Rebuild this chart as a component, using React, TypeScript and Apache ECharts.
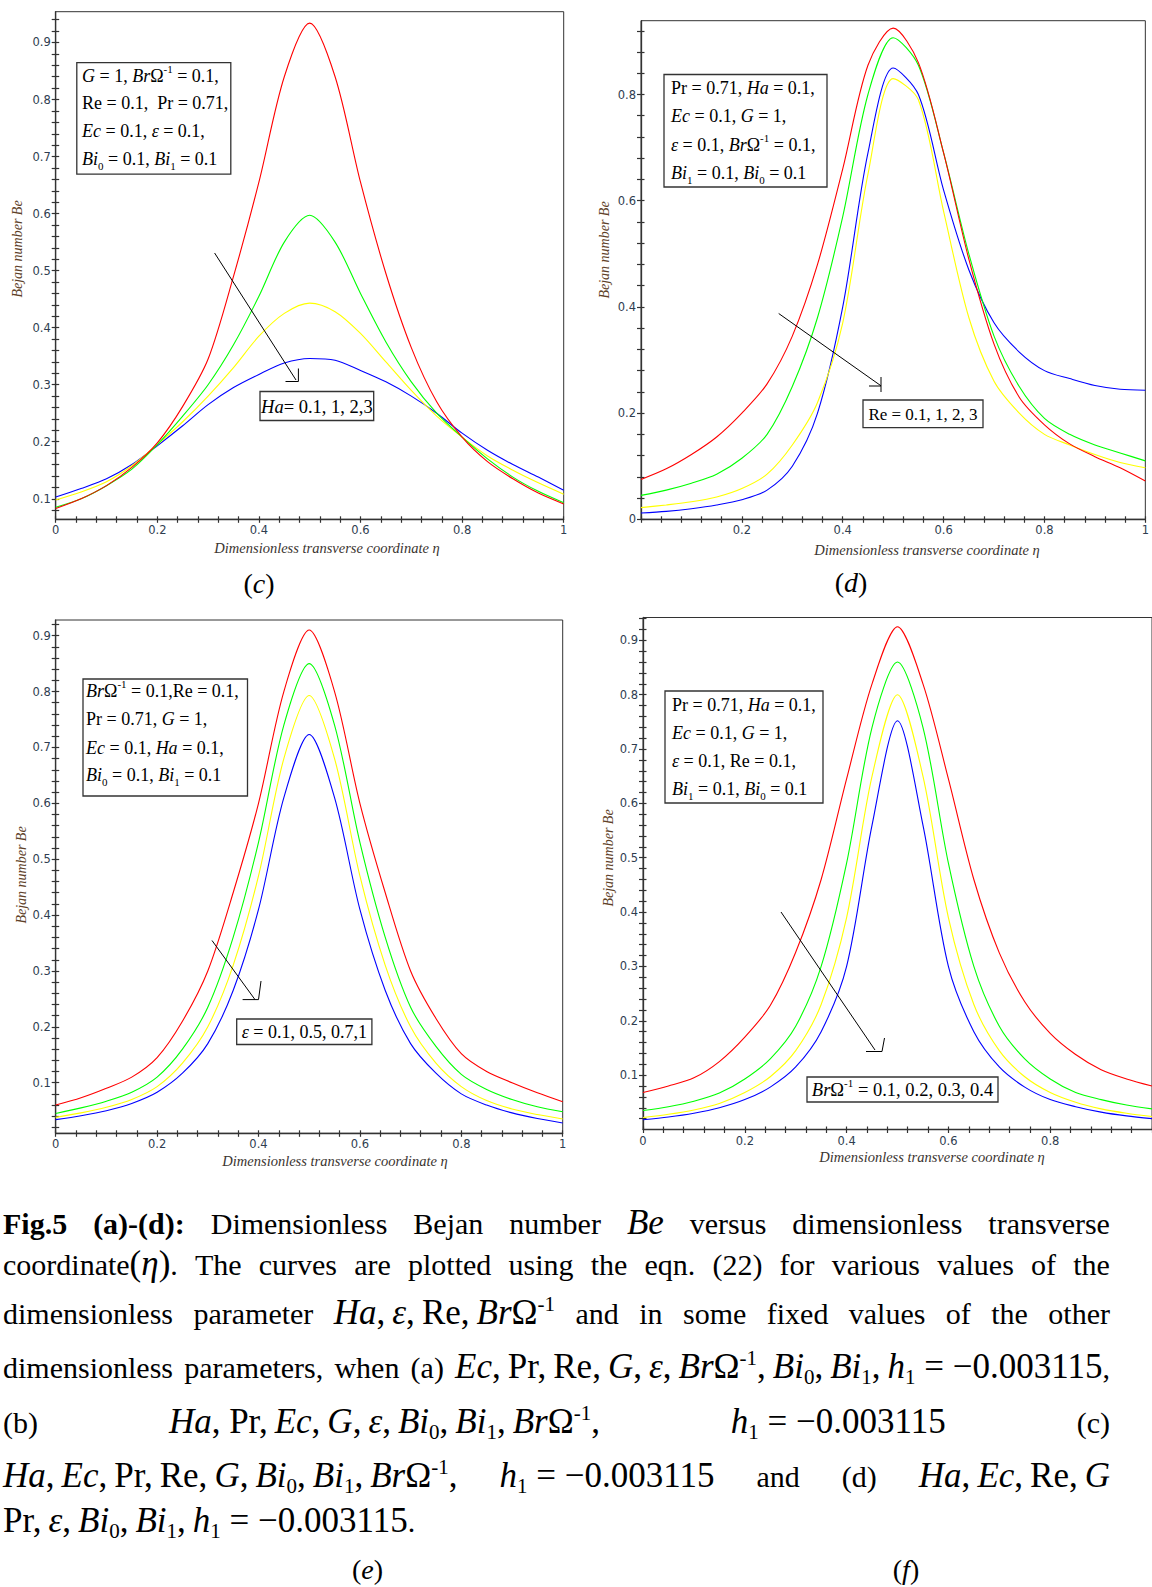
import React, { useEffect, useRef } from "react";
import * as echarts from "echarts";

// ---------------- DATA ----------------
const ETA = [0, 0.05, 0.1, 0.15, 0.2, 0.25, 0.3, 0.35, 0.4, 0.45, 0.5, 0.55, 0.6, 0.65, 0.7, 0.75, 0.8, 0.85, 0.9, 0.95, 1];

// (c) Ha = 0.1, 1, 2, 3
const C_HA_01 = [0.083, 0.1, 0.123, 0.155, 0.198, 0.262, 0.345, 0.49, 0.655, 0.84, 0.934, 0.84, 0.655, 0.495, 0.365, 0.27, 0.208, 0.165, 0.135, 0.11, 0.091];
const C_HA_1 = [0.085, 0.1, 0.123, 0.152, 0.195, 0.245, 0.3, 0.37, 0.455, 0.55, 0.597, 0.55, 0.46, 0.375, 0.305, 0.25, 0.208, 0.17, 0.138, 0.113, 0.093];
const C_HA_2 = [0.098, 0.112, 0.13, 0.158, 0.195, 0.235, 0.28, 0.33, 0.385, 0.425, 0.443, 0.428, 0.39, 0.34, 0.29, 0.245, 0.208, 0.175, 0.15, 0.128, 0.108];
const C_HA_3 = [0.103, 0.118, 0.135, 0.16, 0.193, 0.228, 0.265, 0.295, 0.318, 0.338, 0.346, 0.343, 0.325, 0.305, 0.28, 0.25, 0.215, 0.185, 0.16, 0.138, 0.115];

// (d) Re = 0.1, 1, 2, 3
const D_RE_01 = [0.075, 0.095, 0.122, 0.155, 0.2, 0.255, 0.345, 0.48, 0.66, 0.855, 0.925, 0.86, 0.69, 0.49, 0.33, 0.23, 0.178, 0.142, 0.118, 0.097, 0.072];
const D_RE_1 = [0.045, 0.055, 0.068, 0.085, 0.115, 0.16, 0.25, 0.38, 0.57, 0.8, 0.907, 0.855, 0.69, 0.5, 0.345, 0.25, 0.19, 0.16, 0.14, 0.125, 0.11];
const D_RE_2 = [0.022, 0.027, 0.033, 0.042, 0.058, 0.085, 0.14, 0.22, 0.37, 0.65, 0.83, 0.79, 0.58, 0.38, 0.26, 0.2, 0.16, 0.14, 0.122, 0.107, 0.097];
const D_RE_3 = [0.012, 0.015, 0.02, 0.027, 0.037, 0.055, 0.1, 0.2, 0.4, 0.69, 0.85, 0.8, 0.62, 0.47, 0.37, 0.315, 0.28, 0.265, 0.252, 0.245, 0.243];

// (e) epsilon = 0.1, 0.5, 0.7, 1
const E_EPS_01 = [0.06, 0.073, 0.09, 0.11, 0.145, 0.21, 0.3, 0.44, 0.6, 0.8, 0.91, 0.8, 0.6, 0.44, 0.3, 0.215, 0.152, 0.12, 0.1, 0.082, 0.066];
const E_EPS_05 = [0.045, 0.055, 0.067, 0.083, 0.11, 0.16, 0.235, 0.36, 0.53, 0.74, 0.85, 0.74, 0.53, 0.36, 0.235, 0.165, 0.115, 0.088, 0.07, 0.057, 0.048];
const E_EPS_07 = [0.038, 0.046, 0.056, 0.07, 0.093, 0.135, 0.2, 0.31, 0.47, 0.68, 0.793, 0.68, 0.47, 0.31, 0.2, 0.135, 0.093, 0.068, 0.053, 0.043, 0.035];
const E_EPS_1 = [0.034, 0.041, 0.05, 0.063, 0.083, 0.117, 0.17, 0.265, 0.41, 0.61, 0.723, 0.61, 0.41, 0.265, 0.17, 0.117, 0.08, 0.06, 0.046, 0.036, 0.028];

// (f) Br Omega^-1 = 0.1, 0.2, 0.3, 0.4
const F_BR_01 = [0.068, 0.08, 0.095, 0.125, 0.17, 0.228, 0.326, 0.46, 0.645, 0.82, 0.925, 0.82, 0.645, 0.46, 0.325, 0.235, 0.177, 0.138, 0.11, 0.093, 0.08];
const F_BR_02 = [0.035, 0.042, 0.052, 0.067, 0.093, 0.13, 0.19, 0.3, 0.49, 0.74, 0.86, 0.74, 0.49, 0.3, 0.19, 0.13, 0.093, 0.068, 0.055, 0.045, 0.038];
const F_BR_03 = [0.022, 0.028, 0.036, 0.048, 0.068, 0.097, 0.145, 0.23, 0.39, 0.65, 0.8, 0.65, 0.39, 0.23, 0.145, 0.097, 0.068, 0.05, 0.038, 0.03, 0.024];
const F_BR_04 = [0.018, 0.023, 0.03, 0.04, 0.055, 0.078, 0.115, 0.18, 0.3, 0.56, 0.752, 0.56, 0.3, 0.18, 0.115, 0.078, 0.055, 0.042, 0.032, 0.025, 0.02];

const CURVE_COLORS = ["#ff0000", "#00ff00", "#ffff00", "#0000ff"];

// tick labels
const Y_LABELS_TENTHS = [0.1, 0.2, 0.3, 0.4, 0.5, 0.6, 0.7, 0.8, 0.9];
const Y_LABELS_D = [0, 0.2, 0.4, 0.6, 0.8];
const X_LABELS_FULL = [0, 0.2, 0.4, 0.6, 0.8, 1];
const X_LABELS_D = [0.2, 0.4, 0.6, 0.8, 1];
const X_LABELS_F = [0, 0.2, 0.4, 0.6, 0.8];

// ---------------- STYLE ----------------
const SERIF = '"Liberation Serif", "Times New Roman", Times, serif';
const SANS = '"DejaVu Sans", Verdana, sans-serif';
const AXIS_COLOR = "#333333";
const LABEL_COLOR = "#2f3d50";

function ticks(start: number, end: number, step: number): number[] {
  const out: number[] = [];
  const n = Math.round((end - start) / step);
  for (let k = 0; k <= n; k++) out.push(Math.round((start + k * step) * 1e6) / 1e6);
  return out;
}

const fmt = (v: number) => (Math.abs(v) < 1e-9 ? "0" : Math.abs(v - 1) < 1e-9 ? "1" : v.toFixed(1));

type Panel = {
  left: number; top: number; width: number; height: number;
  yMin: number; yMax: number;
  yLabels: number[]; xLabels: number[];
  yTicks: number[]; xTicks: number[];
  curves: number[][];
};

const PANELS: Panel[] = [
  { left: 55.7, top: 11.7, width: 508, height: 507.6, yMin: 0.064, yMax: 0.954,
    yLabels: Y_LABELS_TENTHS, xLabels: X_LABELS_FULL, yTicks: ticks(0.08, 0.94, 0.02), xTicks: ticks(0, 1, 0.04),
    curves: [C_HA_01, C_HA_1, C_HA_2, C_HA_3] },
  { left: 641, top: 20.7, width: 507.5, height: 498.6, yMin: 0, yMax: 0.939,
    yLabels: Y_LABELS_D, xLabels: X_LABELS_D, yTicks: ticks(0, 0.92, 0.04), xTicks: ticks(0, 1, 0.04),
    curves: [D_RE_01, D_RE_1, D_RE_2, D_RE_3] },
  { left: 55.7, top: 620, width: 507, height: 513.3, yMin: 0.0095, yMax: 0.928,
    yLabels: Y_LABELS_TENTHS, xLabels: X_LABELS_FULL, yTicks: ticks(0.02, 0.92, 0.02), xTicks: ticks(0, 1, 0.04),
    curves: [E_EPS_01, E_EPS_05, E_EPS_07, E_EPS_1] },
  { left: 643, top: 617.5, width: 510, height: 512, yMin: 0, yMax: 0.942,
    yLabels: Y_LABELS_TENTHS, xLabels: X_LABELS_F, yTicks: ticks(0.02, 0.94, 0.02), xTicks: ticks(0, 1, 0.04),
    curves: [F_BR_01, F_BR_02, F_BR_03, F_BR_04] },
];

const RICH = (fs: number, lh: number) => ({
  i: { fontStyle: "italic", fontFamily: SERIF, fontSize: fs, lineHeight: lh, fill: "#000" },
  sup: { fontFamily: SERIF, fontSize: Math.round(fs * 0.62), verticalAlign: "top", lineHeight: lh, fill: "#000" },
  sub: { fontFamily: SERIF, fontSize: Math.round(fs * 0.62), verticalAlign: "bottom", lineHeight: lh, fill: "#000" },
});

function richText(text: string, x: number, y: number, fs: number, align = "left") {
  return {
    type: "text", x, y, silent: true, z: 50,
    style: {
      text, fontFamily: SERIF, fontSize: fs, fill: "#000", lineHeight: 25,
      align, verticalAlign: "middle", textAlign: align, textVerticalAlign: "middle",
      rich: RICH(fs, 25),
    },
  };
}

function box(x: number, y: number, w: number, h: number) {
  return {
    type: "rect", silent: true, z: 40,
    shape: { x, y, width: w, height: h },
    style: { fill: "#ffffff", stroke: "#333", lineWidth: 1.3 },
  };
}

function paramBox(x: number, y: number, w: number, h: number, textX: number, lineYs: number[], lines: string[]) {
  const els: any[] = [box(x, y, w, h)];
  lines.forEach((t, k) => els.push(richText(t, textX, lineYs[k], 18)));
  return els;
}

function legendBox(x: number, y: number, w: number, h: number, text: string, fs = 18) {
  return [box(x, y, w, h), richText(text, x + w / 2, y + h / 2 + 0.5, fs, "center")];
}

function arrow(start: number[], end: number[], head: number[][]) {
  return [
    { type: "line", silent: true, z: 45, shape: { x1: start[0], y1: start[1], x2: end[0], y2: end[1] }, style: { stroke: "#000", lineWidth: 1 } },
    { type: "polyline", silent: true, z: 45, shape: { points: head }, style: { stroke: "#000", lineWidth: 1, fill: null } },
  ];
}

function plainText(text: string, x: number, y: number, opts: any) {
  return {
    type: "text", x, y, silent: true, z: 50, rotation: opts.rotation || 0,
    style: {
      text, fontFamily: SERIF, fontSize: opts.fontSize, fontStyle: opts.fontStyle || "normal", fill: opts.fill || "#000",
      align: "center", verticalAlign: "middle", textAlign: "center", textVerticalAlign: "middle",
      rich: opts.rich,
    },
  };
}

function buildOption() {
  const grid: any[] = [];
  const xAxis: any[] = [];
  const yAxis: any[] = [];
  const series: any[] = [];

  PANELS.forEach((p, i) => {
    grid.push({ left: p.left, top: p.top, width: p.width, height: p.height, show: true, borderColor: AXIS_COLOR, borderWidth: 1, backgroundColor: "transparent", containLabel: false });
    const labelStyle = { color: LABEL_COLOR, fontFamily: SANS, fontSize: 11.5 };
    xAxis.push({
      type: "value", gridIndex: i, min: 0, max: 1, position: "bottom",
      axisLine: { show: true, onZero: false, lineStyle: { color: AXIS_COLOR, width: 1.3 } },
      axisTick: { show: true, inside: false, length: 3.5, customValues: p.xTicks, lineStyle: { color: AXIS_COLOR, width: 1.2 } },
      axisLabel: { show: true, customValues: p.xLabels, formatter: fmt, margin: 5, ...labelStyle },
      splitLine: { show: false },
    });
    xAxis.push({
      type: "value", gridIndex: i, min: 0, max: 1, position: "bottom",
      axisLine: { show: false, onZero: false },
      axisTick: { show: true, inside: true, length: 3, customValues: p.xTicks, lineStyle: { color: AXIS_COLOR, width: 1.2 } },
      axisLabel: { show: false },
      splitLine: { show: false },
    });
    yAxis.push({
      type: "value", gridIndex: i, min: p.yMin, max: p.yMax, position: "left",
      axisLine: { show: true, onZero: false, lineStyle: { color: AXIS_COLOR, width: 1.3 } },
      axisTick: { show: true, inside: false, length: 4, customValues: p.yTicks, lineStyle: { color: AXIS_COLOR, width: 1.2 } },
      axisLabel: { show: true, customValues: p.yLabels, formatter: fmt, margin: 5, ...labelStyle },
      splitLine: { show: false },
    });
    yAxis.push({
      type: "value", gridIndex: i, min: p.yMin, max: p.yMax, position: "left",
      axisLine: { show: false, onZero: false },
      axisTick: { show: true, inside: true, length: 3.5, customValues: p.yTicks, lineStyle: { color: AXIS_COLOR, width: 1.2 } },
      axisLabel: { show: false },
      splitLine: { show: false },
    });
    // draw blue first so red sits on top
    for (let k = p.curves.length - 1; k >= 0; k--) {
      series.push({
        type: "line", xAxisIndex: 2 * i, yAxisIndex: 2 * i,
        data: ETA.map((x, j) => [x, p.curves[k][j]]),
        showSymbol: false, smooth: 0.3, silent: true,
        lineStyle: { color: CURVE_COLORS[k], width: 1.1 },
        itemStyle: { color: CURVE_COLORS[k] },
      });
    }
  });

  const yTitle = { fontSize: 14, fontStyle: "italic", fill: "#5e4128", rotation: Math.PI / 2 };
  const xTitle = { fontSize: 14.5, fontStyle: "italic", fill: "#3a3430" };
  const capRich = { i: { fontStyle: "italic", fontFamily: SERIF, fontSize: 28, fill: "#000" } };

  const graphic: any[] = [
    // axis titles
    plainText("Bejan number Be", 17.5, 249, yTitle),
    plainText("Bejan number Be", 604.5, 250, yTitle),
    plainText("Bejan number Be", 21, 875, yTitle),
    plainText("Bejan number Be", 608, 858, yTitle),
    plainText("Dimensionless transverse coordinate η", 327, 548, xTitle),
    plainText("Dimensionless transverse coordinate η", 927, 550, xTitle),
    plainText("Dimensionless transverse coordinate η", 335, 1161, xTitle),
    plainText("Dimensionless transverse coordinate η", 932, 1157, xTitle),
    // sub captions
    plainText("({i|c})", 259, 583, { fontSize: 28, rich: capRich }),
    plainText("({i|d})", 851, 582, { fontSize: 28, rich: capRich }),
    plainText("({i|e})", 367.5, 1569, { fontSize: 28, rich: capRich }),
    plainText("({i|f})", 906, 1569, { fontSize: 28, rich: capRich }),

    // panel (c)
    ...paramBox(76.8, 62.7, 154, 111.5, 82, [75.8, 103.4, 131, 158.6], [
      "{i|G} = 1, {i|Br}Ω{sup|-1} = 0.1,",
      "Re = 0.1,  Pr = 0.71,",
      "{i|Ec} = 0.1, {i|ε} = 0.1,",
      "{i|Bi}{sub|0} = 0.1, {i|Bi}{sub|1} = 0.1",
    ]),
    ...legendBox(260, 391.5, 113.7, 29, "{i|Ha}= 0.1, 1, 2,3", 18.5),
    ...arrow([214.6, 253], [296, 380], [[285.5, 381.5], [298.4, 381.5], [298.4, 368.5]]),

    // panel (d)
    ...paramBox(664, 74.5, 163, 112.5, 671, [88, 116, 145, 173], [
      "Pr = 0.71, {i|Ha} = 0.1,",
      "{i|Ec} = 0.1, {i|G} = 1,",
      "{i|ε} = 0.1, {i|Br}Ω{sup|-1} = 0.1,",
      "{i|Bi}{sub|1} = 0.1, {i|Bi}{sub|0} = 0.1",
    ]),
    ...legendBox(863, 400, 120, 27.7, "Re = 0.1, 1, 2, 3", 17),
    ...arrow([778.7, 313.5], [881, 385.8], [[869, 386], [881, 386]]),
    { type: "line", silent: true, z: 45, shape: { x1: 881, y1: 377, x2: 881, y2: 392 }, style: { stroke: "#000", lineWidth: 1 } },

    // panel (e)
    ...paramBox(83, 679, 164.5, 117, 86, [691, 719, 748, 775], [
      "{i|Br}Ω{sup|-1} = 0.1,Re = 0.1,",
      "Pr = 0.71, {i|G} = 1,",
      "{i|Ec} = 0.1, {i|Ha} = 0.1,",
      "{i|Bi}{sub|0} = 0.1, {i|Bi}{sub|1} = 0.1",
    ]),
    ...legendBox(236.7, 1019, 135.2, 25.5, "{i|ε} = 0.1, 0.5, 0.7,1", 18),
    ...arrow([212, 940.5], [255, 999.6], [[242.6, 999.6], [258.5, 999.6], [261, 981]]),

    // panel (f)
    ...paramBox(665, 691, 158, 112, 672, [705, 733, 761, 789], [
      "Pr = 0.71, {i|Ha} = 0.1,",
      "{i|Ec} = 0.1, {i|G} = 1,",
      "{i|ε} = 0.1, Re = 0.1,",
      "{i|Bi}{sub|1} = 0.1, {i|Bi}{sub|0} = 0.1",
    ]),
    ...legendBox(807, 1077, 191, 25, "{i|Br}Ω{sup|-1} = 0.1, 0.2, 0.3, 0.4", 18.5),
    ...arrow([781, 912], [875, 1050], [[866, 1051.5], [882, 1051.5], [884.5, 1038]]),
  ];

  return { animation: false, backgroundColor: "#ffffff", grid, xAxis, yAxis, series, graphic };
}

// ---------------- CAPTION (HTML) ----------------
const MATH_FS = 35;
const Mth = ({ children }: { children: any }) => (
  <span style={{ fontSize: MATH_FS, whiteSpace: "nowrap", display: "inline-block" }}>{children}</span>
);
const I = ({ children }: { children: any }) => <i>{children}</i>;
const Sup = ({ children }: { children: any }) => (
  <span style={{ fontSize: "0.6em", position: "relative", top: "-0.62em" }}>{children}</span>
);
const Sub = ({ children }: { children: any }) => (
  <span style={{ fontSize: "0.6em", position: "relative", top: "0.28em" }}>{children}</span>
);
const TS = "\u2009";
const BrO = () => (<><I>Br</I>Ω<Sup>-1</Sup></>);
const Bi = ({ n }: { n: string }) => (<><I>Bi</I><Sub>{n}</Sub></>);
const H1 = () => (<><I>h</I><Sub>1</Sub></>);

const w = (s: string) => s.split(" ");

function Line({ top, items, justify = true }: { top: number; items: any[]; justify?: boolean }) {
  return (
    <div style={{
      position: "absolute", left: 3, width: 1107, top: top - 20, height: 40,
      display: "flex", justifyContent: justify ? "space-between" : "flex-start", alignItems: "baseline",
      fontFamily: SERIF, fontSize: 30, lineHeight: "40px", color: "#000", whiteSpace: "nowrap",
      gap: justify ? 0 : 8,
    }}>
      {items.map((it, k) => <span key={k}>{it}</span>)}
    </div>
  );
}

function Caption() {
  return (
    <>
      <Line top={1223} items={[<b>Fig.5</b>, <b>(a)-(d):</b>, ...w("Dimensionless Bejan number"), <Mth><I>Be</I></Mth>, ...w("versus dimensionless transverse")]} />
      <Line top={1264} items={[<>coordinate<Mth>(<I>η</I>)</Mth>.</>, ...w("The curves are plotted using the eqn. (22) for various values of the")]} />
      <Line top={1313} items={[...w("dimensionless parameter"), <Mth><I>Ha</I>,{TS}<I>ε</I>,{TS}Re,{TS}<BrO /></Mth>, ...w("and in some fixed values of the other")]} />
      <Line top={1367} items={[...w("dimensionless parameters, when"), "(a)", <><Mth><I>Ec</I>,{TS}Pr,{TS}Re,{TS}<I>G</I>,{TS}<I>ε</I>,{TS}<BrO />,{TS}<Bi n="0" />,{TS}<Bi n="1" />,{TS}<H1 /> = −0.003115</Mth>,</>]} />
      <Line top={1422} items={["(b)", <Mth><I>Ha</I>, Pr,{TS}<I>Ec</I>,{TS}<I>G</I>,{TS}<I>ε</I>,{TS}<Bi n="0" />,{TS}<Bi n="1" />,{TS}<BrO />,</Mth>, <Mth><H1 /> = −0.003115</Mth>, "(c)"]} />
      <Line top={1476} items={[<Mth><I>Ha</I>,{TS}<I>Ec</I>,{TS}Pr,{TS}Re,{TS}<I>G</I>,{TS}<Bi n="0" />,{TS}<Bi n="1" />,{TS}<BrO />,</Mth>, <Mth><H1 /> = −0.003115</Mth>, "and", "(d)", <Mth><I>Ha</I>,{TS}<I>Ec</I>,{TS}Re,{TS}<I>G</I></Mth>]} />
      <Line top={1521} justify={false} items={[<><Mth>Pr,{TS}<I>ε</I>,{TS}<Bi n="0" />,{TS}<Bi n="1" />,{TS}<H1 /> = −0.003115</Mth>.</>]} />
    </>
  );
}

export default function App() {
  const ref = useRef<HTMLDivElement>(null);
  useEffect(() => {
    if (!ref.current) return;
    const chart = echarts.init(ref.current, null, { renderer: "svg" });
    chart.setOption(buildOption() as any);
    return () => chart.dispose();
  }, []);
  return (
    <div style={{ position: "absolute", left: 0, top: 0, width: 1152, height: 1587, background: "#fff", overflow: "hidden" }}>
      <div ref={ref} style={{ position: "absolute", left: 0, top: 0, width: 1152, height: 1587 }} />
      <Caption />
    </div>
  );
}
